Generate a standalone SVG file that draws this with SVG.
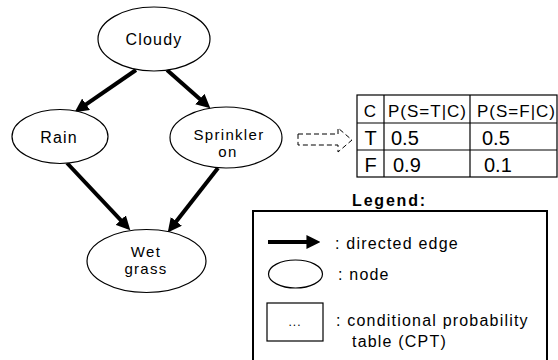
<svg xmlns="http://www.w3.org/2000/svg" width="558" height="360" viewBox="0 0 558 360">
  <style>
    .node { fill: #ffffff; stroke: #000000; stroke-width: 1.2; }
    .label { font-family: "Liberation Sans", Arial, sans-serif; font-size: 16px; letter-spacing: 1.2px; fill: #000000; text-anchor: middle; }
    .label2 { font-family: "Liberation Sans", Arial, sans-serif; font-size: 15px; letter-spacing: 1.3px; fill: #000000; text-anchor: middle; }
    .edge { stroke: #000000; stroke-width: 4; fill: none; marker-end: url(#head); }
    .cell { fill: none; stroke: #000000; stroke-width: 1.2; }
    .hdr { font-family: "Liberation Sans", Arial, sans-serif; font-size: 17px; letter-spacing: 1px; fill: #000000; }
    .val { font-family: "Liberation Sans", Arial, sans-serif; font-size: 20px; fill: #000000; }
    .legtext { font-family: "Liberation Sans", Arial, sans-serif; font-size: 16px; letter-spacing: 1.2px; fill: #000000; }
  </style>
  <defs>
    <marker id="head" markerUnits="userSpaceOnUse" markerWidth="14" markerHeight="14" viewBox="0 0 13 13" refX="7" refY="6.5" orient="auto">
      <path d="M0,0 L13,6.5 L0,13 z" fill="#000000"/>
    </marker>
  </defs>
  <rect width="558" height="360" fill="#ffffff"/>

  <!-- directed edges of the network -->
  <g id="connectors">
    <line class="edge" x1="136" y1="70" x2="79.9" y2="108.6"/>
    <line class="edge" x1="167" y1="70" x2="205.5" y2="104"/>
    <line class="edge" x1="67" y1="163" x2="125.9" y2="225.6"/>
    <line class="edge" x1="218" y1="168" x2="171.7" y2="227.3"/>
    <!-- dashed hollow arrow pointing at the CPT -->
    <path d="M298,134 L338,134 L338,128 L352,140 L338,152 L338,145 L298,145 Z" fill="none" stroke="#000000" stroke-width="1" stroke-dasharray="5,3"/>
  </g>

  <g id="cloudy">
    <ellipse class="node" cx="154" cy="39" rx="56" ry="32"/>
    <text class="label" x="154" y="45">Cloudy</text>
  </g>
  <g id="rain">
    <ellipse class="node" cx="60" cy="136.5" rx="48" ry="27"/>
    <text class="label" x="59" y="143">Rain</text>
  </g>
  <g id="sprinkler">
    <ellipse class="node" cx="226" cy="137.5" rx="56" ry="30.5"/>
    <text class="label2" x="229" y="140">Sprinkler</text>
    <text class="label2" x="228" y="157">on</text>
  </g>
  <g id="wetgrass">
    <ellipse class="node" cx="146.5" cy="261" rx="59.5" ry="31.5"/>
    <text class="label2" x="146" y="257">Wet</text>
    <text class="label2" x="146" y="274">grass</text>
  </g>

  <!-- conditional probability table for Sprinkler -->
  <g id="cpt">
    <rect class="cell" x="357" y="95" width="200" height="82"/>
    <line class="cell" x1="357" y1="123" x2="557" y2="123"/>
    <line class="cell" x1="357" y1="150" x2="557" y2="150"/>
    <line class="cell" x1="384" y1="95" x2="384" y2="177"/>
    <line class="cell" x1="470" y1="95" x2="470" y2="177"/>
    <text class="hdr" x="370.5" y="117" text-anchor="middle">C</text>
    <text class="hdr" x="388" y="117">P(S=T|C)</text>
    <text class="hdr" x="477" y="117">P(S=F|C)</text>
    <text class="val" x="370.5" y="145" text-anchor="middle">T</text>
    <text class="val" x="391" y="145">0.5</text>
    <text class="val" x="482" y="145">0.5</text>
    <text class="val" x="370.5" y="172" text-anchor="middle">F</text>
    <text class="val" x="393" y="172">0.9</text>
    <text class="val" x="484" y="172">0.1</text>
  </g>

  <!-- legend -->
  <g id="legend">
    <text x="389.5" y="206" text-anchor="middle" font-family="Liberation Sans, Arial, sans-serif" font-size="16" font-weight="bold" letter-spacing="1.8">Legend:</text>
    <rect x="253" y="211" width="294" height="160" fill="none" stroke="#000000" stroke-width="2"/>
    <line class="edge" x1="268" y1="242" x2="314" y2="242"/>
    <text class="legtext" x="335" y="249">: directed edge</text>
    <ellipse class="node" cx="295.5" cy="274" rx="27" ry="14"/>
    <text class="legtext" x="338" y="280">: node</text>
    <rect class="cell" x="267" y="303" width="56" height="38"/>
    <text x="295" y="326" text-anchor="middle" font-family="Liberation Sans, Arial, sans-serif" font-size="12" letter-spacing="1">...</text>
    <text class="legtext" x="336" y="326">: conditional probability</text>
    <text class="legtext" x="352" y="347">table (CPT)</text>
  </g>
</svg>
